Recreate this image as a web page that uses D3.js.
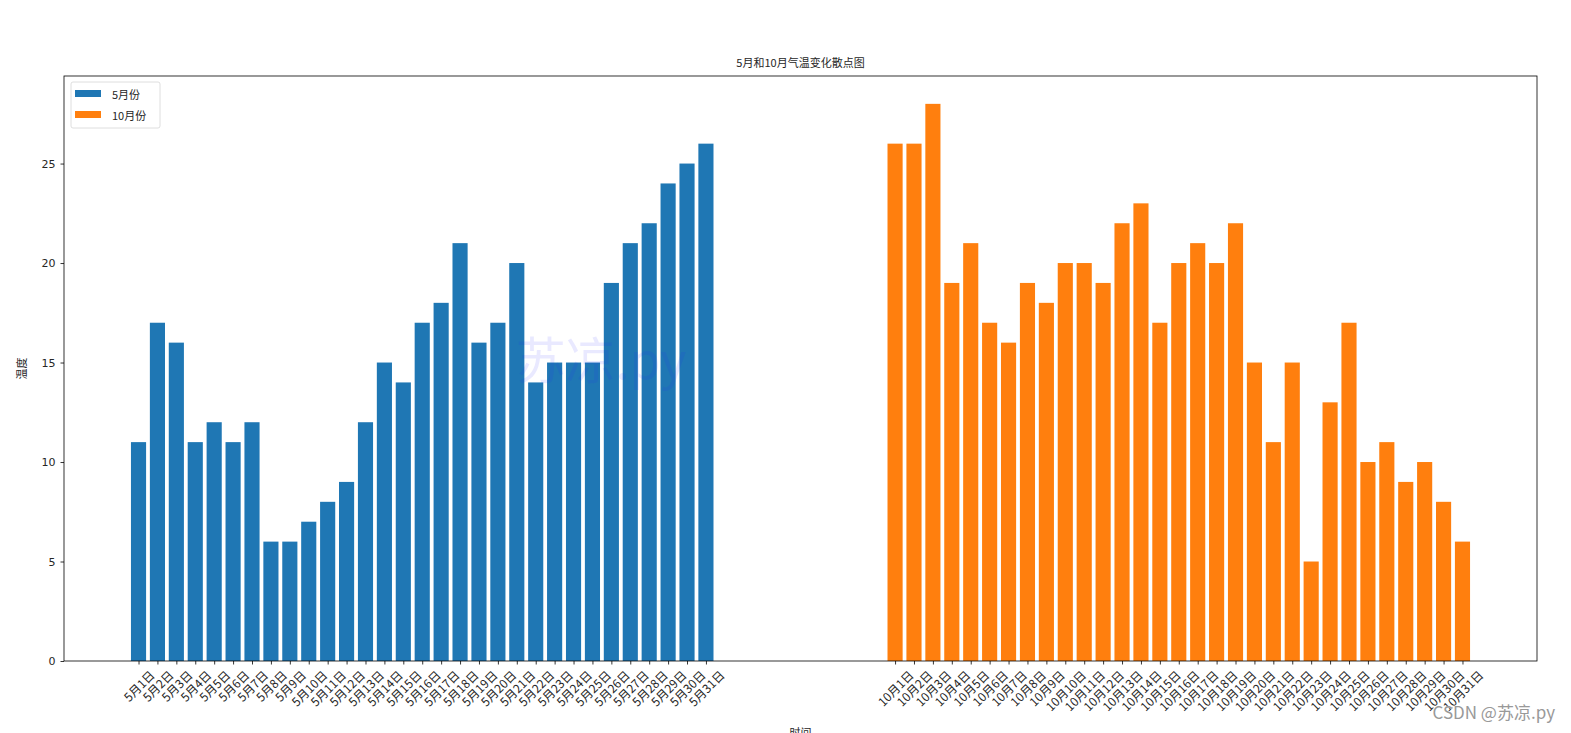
<!DOCTYPE html>
<html><head><meta charset="utf-8">
<script src="https://cdn.jsdelivr.net/npm/d3@7"></script>
<style>body{margin:0;background:#fff;overflow:hidden}svg{display:block}text{font-family:"Noto Sans CJK SC","DejaVu Sans",sans-serif}</style>
</head><body>
<svg id="c" width="1571" height="733"></svg>
<script>
const mayLabels = d3.range(1,32).map(d => "5月" + d + "日");
const octLabels = d3.range(1,32).map(d => "10月" + d + "日");
const mayPos = d3.range(1,32);
const octPos = d3.range(41,72);
const mayTemps = [11,17,16,11,12,11,12,6,6,7,8,9,12,15,14,17,18,21,16,17,20,14,15,15,15,19,21,22,24,25,26];
const octTemps = [26,26,28,19,21,17,16,19,18,20,20,19,22,23,17,20,21,20,22,15,11,15,5,13,17,10,11,9,10,8,6];
const yTicks = [0,5,10,15,20,25];
const seriesNames = ["5月份","10月份"];
const colors = ["#1f77b4","#ff7f0e"];

const svg = d3.select("#c");
const L=64, R=1537, T=76, B=661;
const x = d3.scaleLinear().domain([-2.94,74.94]).range([L,R]);
const y = d3.scaleLinear().domain([0,29.4]).range([B,T]);
const bw = 0.8;

const series = [
  {pos: mayPos, vals: mayTemps, labels: mayLabels, color: colors[0]},
  {pos: octPos, vals: octTemps, labels: octLabels, color: colors[1]}
];
series.forEach(s => {
  svg.append("g").selectAll("rect").data(s.vals).join("rect")
    .attr("x", (d,i) => x(s.pos[i]-bw/2))
    .attr("width", x(bw)-x(0))
    .attr("y", d => y(d))
    .attr("height", d => y(0)-y(d))
    .attr("fill", s.color);
});

// axes
const gx = svg.append("g").attr("transform",`translate(0,${B})`);
const allPos = mayPos.concat(octPos), allLabels = mayLabels.concat(octLabels);
gx.call(d3.axisBottom(x).tickValues(allPos).tickSize(3.5).tickFormat(""));
gx.select(".domain").remove();
gx.selectAll("line").attr("stroke","#000").attr("stroke-width",0.8);
const lab = svg.append("g");
allPos.forEach((p,i) => {
  const t = lab.append("text").text(allLabels[i]).attr("font-size",12).attr("fill","#262626")
    .attr("text-anchor","middle").attr("dominant-baseline","central");
  const w = t.node().getComputedTextLength(), h = 12;
  const bh = (w+h)*Math.SQRT1_2;
  const cx = x(p), cy = B + 7 + bh/2;
  t.attr("transform",`translate(${cx},${cy}) rotate(-45)`);
});

const gy = svg.append("g").attr("transform",`translate(${L},0)`);
gy.call(d3.axisLeft(y).tickValues(yTicks).tickSize(3.5).tickPadding(5).tickFormat(d3.format("d")));
gy.select(".domain").remove();
gy.selectAll("line").attr("stroke","#000").attr("stroke-width",0.8);
gy.selectAll("text").attr("font-size",11).attr("fill","#262626").style("font-family","'DejaVu Sans',sans-serif");

svg.append("rect").attr("x",L).attr("y",T).attr("width",R-L).attr("height",B-T)
  .attr("fill","none").attr("stroke","#000").attr("stroke-width",0.8);

// title & labels
svg.append("text").attr("x",(L+R)/2).attr("y",67).attr("text-anchor","middle").attr("font-size",11).attr("fill","#262626").text("5月和10月气温变化散点图");
svg.append("text").attr("transform",`translate(26,${(T+B)/2}) rotate(-90)`).attr("text-anchor","middle").attr("font-size",11).attr("fill","#262626").text("温度");
svg.append("text").attr("x",(L+R)/2).attr("y",737).attr("text-anchor","middle").attr("font-size",11).attr("fill","#262626").text("时间");

// legend
const lg = svg.append("g").attr("transform","translate(71,82)");
lg.append("rect").attr("width",89).attr("height",46).attr("rx",2).attr("fill","#fff").attr("fill-opacity",0.8).attr("stroke","#d5d5d5").attr("stroke-width",0.8);
seriesNames.forEach((n,i) => {
  lg.append("rect").attr("x",4).attr("y",8+i*21).attr("width",26).attr("height",7).attr("fill",colors[i]);
  lg.append("text").attr("x",41).attr("y",11.5+i*21).attr("dominant-baseline","central").attr("font-size",11).attr("fill","#262626").text(n);
});

// watermarks
svg.append("text").attr("x",601).attr("y",379).attr("text-anchor","middle").attr("font-size",50).attr("fill","rgba(40,40,255,0.1)").text("苏凉.py");
svg.append("text").attr("x",1555).attr("y",719).attr("text-anchor","end").attr("font-size",17).attr("fill","#999")
  .attr("stroke","#fff").attr("stroke-width",0.5).attr("paint-order","stroke").text("CSDN @苏凉.py");
</script>
</body></html>
